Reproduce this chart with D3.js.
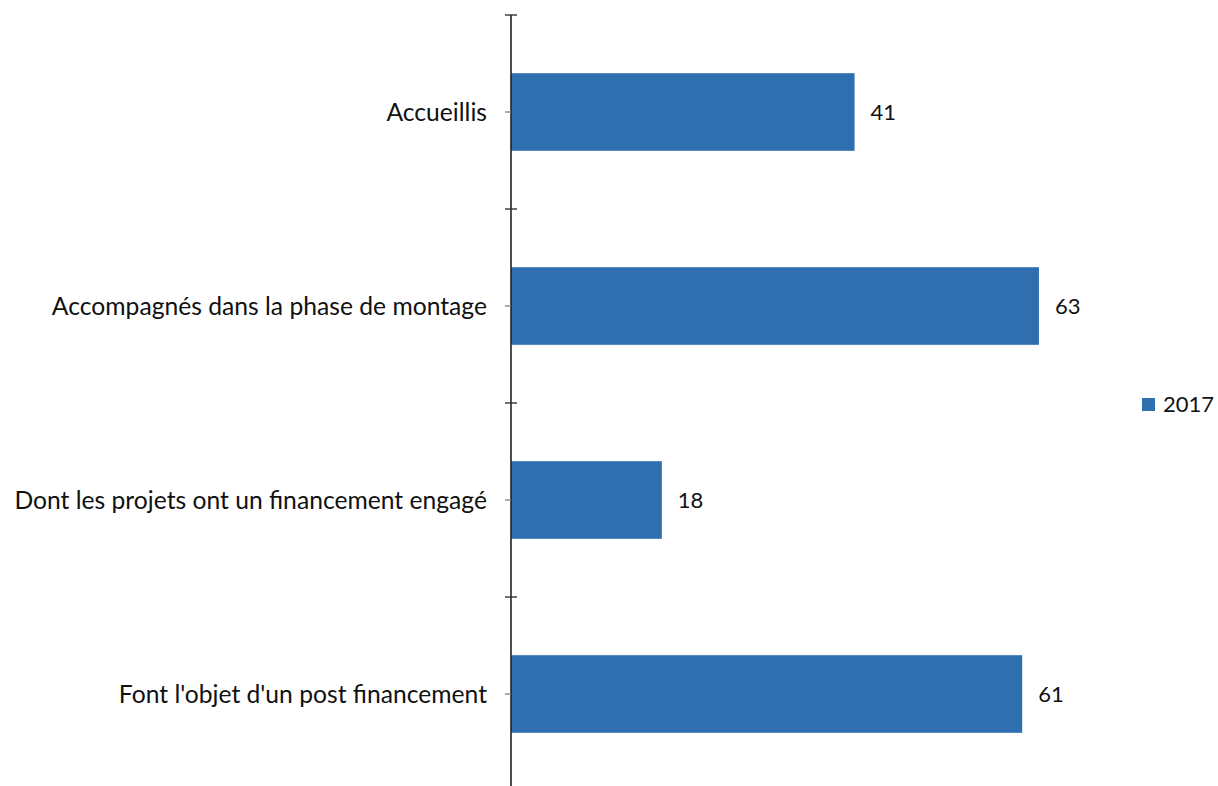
<!DOCTYPE html>
<html><head><meta charset="utf-8">
<script src="https://cdn.jsdelivr.net/npm/d3@7"></script>
<style>body{margin:0;background:#fff;} svg{display:block;}</style>
</head><body>
<svg id="c" width="1218" height="786"></svg>
<script>
const categories = ["Accueillis","Accompagnés dans la phase de montage","Dont les projets ont un financement engagé","Font l'objet d'un post financement"];
const values2017 = [41,63,18,61];
const seriesName = "2017";

const svg = d3.select("#c");
const font = "Lato, 'Open Sans', sans-serif";
const color = "#2f6fb0";
const x = d3.scaleLinear().domain([0,70]).range([511, 511+70*8.38]);
const y = d3.scaleBand().domain(categories).range([15,791]).paddingInner(0.6).paddingOuter(0.3);

// fit font size so the longest label is ~473px wide
const probe = svg.append("text").style("font-family",font).style("font-size","20px").text(categories[2]);
const w20 = probe.node().getComputedTextLength();
probe.remove();
const fs = Math.min(27, Math.max(18, 20*473/w20));
const fsNum = 22;

// bars
svg.selectAll("rect.bar").data(categories).join("rect")
  .attr("class","bar")
  .attr("x", x(0)).attr("y", d=>y(d))
  .attr("width", (d,i)=>x(values2017[i])-x(0))
  .attr("height", y.bandwidth())
  .attr("fill", color);

// axis line
svg.append("line").attr("x1",511).attr("x2",511).attr("y1",15).attr("y2",791)
  .attr("stroke","#222").attr("stroke-width",1.6);
// boundary ticks
const step = y.step();
const bounds = d3.range(categories.length+1).map(i=>15+i*step);
svg.selectAll("line.bt").data(bounds).join("line").attr("class","bt")
  .attr("x1",505).attr("x2",517).attr("y1",d=>d).attr("y2",d=>d)
  .attr("stroke","#333").attr("stroke-width",1.4);
// category small ticks
svg.selectAll("line.ct").data(categories).join("line").attr("class","ct")
  .attr("x1",505).attr("x2",511).attr("y1",d=>y(d)+y.bandwidth()/2).attr("y2",d=>y(d)+y.bandwidth()/2)
  .attr("stroke","#888").attr("stroke-width",1.4);

// category labels
svg.selectAll("text.cat").data(categories).join("text").attr("class","cat")
  .attr("x",487).attr("y",d=>y(d)+y.bandwidth()/2)
  .attr("dy","0.35em").attr("text-anchor","end")
  .style("font-family",font).style("font-size",fs+"px").attr("fill","#111")
  .text(d=>d);

// value labels
svg.selectAll("text.val").data(categories).join("text").attr("class","val")
  .attr("x",(d,i)=>x(values2017[i])+16).attr("y",d=>y(d)+y.bandwidth()/2)
  .attr("dy","0.35em")
  .style("font-family",font).style("font-size",fsNum+"px").attr("fill","#111")
  .text((d,i)=>values2017[i]);

// legend
svg.append("rect").attr("x",1142).attr("y",398).attr("width",13).attr("height",13).attr("fill",color);
svg.append("text").attr("x",1163).attr("y",404).attr("dy","0.35em")
  .style("font-family",font).style("font-size",fsNum+"px").attr("fill","#111").text(seriesName);
</script>
</body></html>
